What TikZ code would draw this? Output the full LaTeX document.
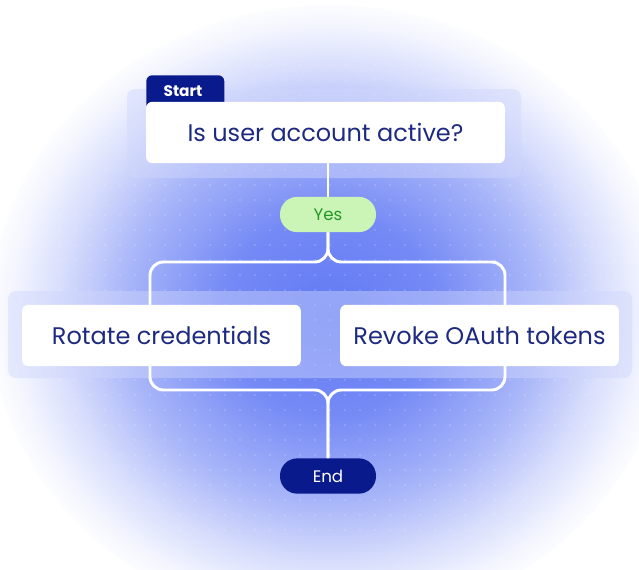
\documentclass[tikz,border=0pt]{standalone}
\usepackage{fontspec}
\setmainfont{Poppins}
\definecolor{glowc}{RGB}{98,122,244}
\definecolor{ink}{RGB}{30,42,128}
\definecolor{navy}{RGB}{8,26,140}
\definecolor{mint}{RGB}{202,245,182}
\definecolor{leaf}{RGB}{38,150,40}
\pgfdeclareradialshading{glow}{\pgfpoint{0bp}{0bp}}{color(0bp)=(glowc); color(8bp)=(glowc!88!white); color(15bp)=(glowc!56!white); color(20bp)=(glowc!25!white); color(23.5bp)=(glowc!7!white); color(25.5bp)=(white); color(50bp)=(white)}
\tikzset{
  card/.style={fill=white, rounded corners=4.5pt, minimum height=46pt, text=ink, font=\fontsize{18}{20}\selectfont, inner sep=0pt},
  pill/.style={rounded corners=13pt, minimum width=72pt, minimum height=26.5pt, inner sep=0pt, font=\fontsize{12.5}{14}\selectfont},
  panel/.style={fill=glowc!30!white, fill opacity=0.45, rounded corners=6pt},
  link/.style={draw=white, line width=2.2pt, rounded corners=10pt},
}
\begin{document}
\begin{tikzpicture}[x=0.75pt, y=-0.75pt]
  \useasboundingbox (0,0) rectangle (639,569);
  \fill[white] (0,0) rectangle (639,569);
  % glow and dot grid
  \shade[shading=glow] (330,315) ellipse [x radius=340, y radius=310];
  \foreach \i in {0,...,40} {
    \foreach \j in {0,...,31} {
      \fill[white, opacity=0.2] (15+15*\i, 65+15*\j) circle [radius=1.1];
    }
  }
  \fill[panel] (127,89) rectangle (521,178);
  \fill[panel] (8,291) rectangle (632,378);
  % nodes
  \node[fill=navy, rounded corners=4.5pt, minimum width=58.5pt, minimum height=26pt, anchor=north west, inner sep=0pt] (tab) at (146,75) {};
  \node[text=white, font=\fontsize{11.5}{13}\selectfont\bfseries] (start) at (183,91) {Start};
  \node[card, minimum width=269pt] (ask) at (325.5,132.5) {Is user account active?};
  \node[pill, fill=mint, text=leaf] (yes) at (328,214.5) {Yes};
  \coordinate (lft) at (150,262);
  \coordinate (rgt) at (505,262);
  \coordinate (join) at (328,390);
  \node[pill, fill=navy, text=white] (end) at (328,476) {End};
  % connectors
  \draw[link] (yes.north |- ask.south) -- (yes.north);
  \draw[link] (yes.south) |- (lft) -- (lft |- join) -| (end.north);
  \draw[link] (yes.south) |- (rgt) -- (rgt |- join) -| (end.north);
  \node[card, minimum width=209pt] (rotate) at (161.5,335.5) {Rotate credentials};
  \node[card, minimum width=209pt] (revoke) at (479.5,335.5) {Revoke OAuth tokens};
\end{tikzpicture}
\end{document}
